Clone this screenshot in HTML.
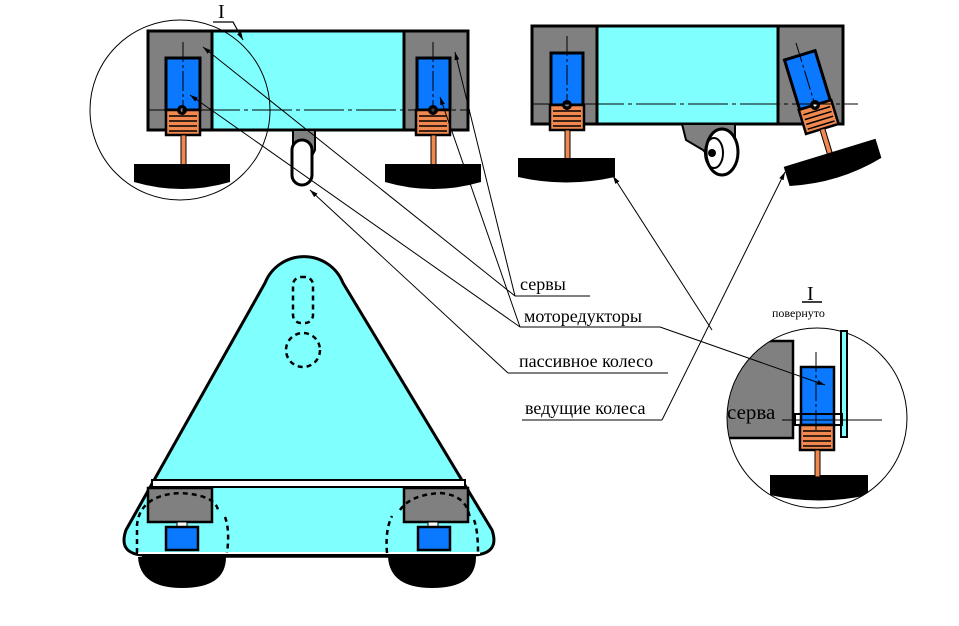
<!DOCTYPE html>
<html><head><meta charset="utf-8"><style>
html,body{margin:0;padding:0;background:#fff}
svg{display:block}
text{font-family:"Liberation Serif","DejaVu Serif",serif;fill:#000}
</style></head><body>
<svg width="959" height="626" viewBox="0 0 959 626" xmlns="http://www.w3.org/2000/svg">
<defs>
<marker id="ar" viewBox="0 0 10 10" refX="10" refY="5" markerWidth="8" markerHeight="8" orient="auto-start-reverse" markerUnits="userSpaceOnUse"><path d="M0,2 L10,5 L0,8z" fill="#000"/></marker>
<g id="coil">
<rect x="-17" y="0" width="34" height="25" fill="#f08850" stroke="#000" stroke-width="2.5"/>
<path d="M-14,6 H14 M-14,11 H14 M-14,16 H14 M-14,21 H14" stroke="#000" stroke-width="1.5"/>
</g>
</defs>

<!-- ===== top-left view ===== -->
<rect x="148" y="31" width="320" height="99" fill="#808080" stroke="#000" stroke-width="3"/>
<rect x="212" y="31" width="192" height="99" fill="#80ffff" stroke="#000" stroke-width="3"/>
<rect x="166" y="58" width="34" height="52" fill="#0a78ff" stroke="#000" stroke-width="3"/>
<g transform="translate(183,110)"><use href="#coil"/></g>
<rect x="181" y="135" width="5" height="30" fill="#f08850" stroke="#000" stroke-width="1"/>
<path d="M134,164 H230 V182 Q182,196 134,182Z" fill="#000"/>
<circle cx="182" cy="110" r="5" fill="#000"/><circle cx="182" cy="110" r="1.5" fill="#fff"/>
<rect x="417" y="58" width="33" height="52" fill="#0a78ff" stroke="#000" stroke-width="3"/>
<g transform="translate(433,110)"><use href="#coil"/></g>
<rect x="431" y="135" width="5" height="30" fill="#f08850" stroke="#000" stroke-width="1"/>
<path d="M385,164 H481 V182 Q433,196 385,182Z" fill="#000"/>
<circle cx="433" cy="110" r="5" fill="#000"/><circle cx="433" cy="110" r="1.5" fill="#fff"/>
<path d="M148,110 H470" stroke="#000" stroke-width="1" stroke-dasharray="40,4,4,4"/>
<path d="M183,42 V115 M433,42 V115" stroke="#000" stroke-width="1" stroke-dasharray="20,3,3,3"/>
<path d="M293,130 H315 V150 L310,160 H296 L293,150Z" fill="#808080" stroke="#000" stroke-width="2"/>
<rect x="292" y="140" width="20" height="45" rx="10" fill="#fff" stroke="#000" stroke-width="3"/>
<circle cx="180" cy="110" r="90" fill="none" stroke="#000" stroke-width="1"/>
<text x="218" y="18" font-size="20">I</text>
<path d="M213,22 H233 L243,40" stroke="#000" fill="none" stroke-width="1.2" marker-end="url(#ar)"/>

<!-- ===== top-right view ===== -->
<rect x="532" y="26" width="311" height="98" fill="#808080" stroke="#000" stroke-width="3"/>
<rect x="597" y="26" width="181" height="98" fill="#80ffff" stroke="#000" stroke-width="3"/>
<rect x="551" y="53" width="32" height="52" fill="#0a78ff" stroke="#000" stroke-width="3"/>
<g transform="translate(567,105)"><use href="#coil"/></g>
<rect x="565" y="130" width="5" height="30" fill="#f08850" stroke="#000" stroke-width="1"/>
<path d="M518,158 H615 V177 Q566,188 518,177Z" fill="#000"/>
<circle cx="567" cy="105" r="5" fill="#000"/><circle cx="567" cy="105" r="1.5" fill="#fff"/>
<path d="M682,124 H735 V145 L728,150 L712,160 L703,150 L686,140Z" fill="#808080" stroke="#000" stroke-width="2"/>
<ellipse cx="722" cy="152" rx="16" ry="23" fill="#fff" stroke="#000" stroke-width="3"/>
<ellipse cx="714" cy="153" rx="9" ry="15" fill="none" stroke="#000" stroke-width="2"/>
<circle cx="712" cy="153" r="4" fill="#000"/>
<g transform="translate(815,105) rotate(-17)">
<rect x="-16" y="-52" width="32" height="52" fill="#0a78ff" stroke="#000" stroke-width="3"/>
<use href="#coil"/>
<rect x="-2.5" y="25" width="5" height="26" fill="#f08850" stroke="#000" stroke-width="1"/>
<path d="M-48,50 H48 V70 Q0,82 -48,70Z" fill="#000"/>
<path d="M0,-65 V5" stroke="#000" stroke-width="1" stroke-dasharray="20,3,3,3"/>
<circle cx="0" cy="0" r="5" fill="#000"/><circle cx="0" cy="0" r="1.5" fill="#fff"/>
</g>
<path d="M532,104 H858" stroke="#000" stroke-width="1" stroke-dasharray="40,4,4,4"/>
<path d="M567,36 V110" stroke="#000" stroke-width="1" stroke-dasharray="20,3,3,3"/>

<!-- ===== bottom view ===== -->
<path d="M265,283 A42,42 0 0 1 343,283 L492,530 Q500,553 475,555 H142 Q118,553 126,530 Z" fill="#80ffff" stroke="#000" stroke-width="3"/>
<rect x="152" y="480" width="313" height="7" fill="#fff" stroke="#000" stroke-width="2"/>
<path d="M138,553 H480" stroke="#fff" stroke-width="2"/>
<path d="M142,557 H476" stroke="#000" stroke-width="1.5"/>
<path d="M138,557 Q140,588 182,588 Q226,588 226,557Z" fill="#000"/>
<path d="M388,557 Q390,588 432,588 Q476,588 476,557Z" fill="#000"/>
<rect x="148" y="488" width="64" height="34" fill="#808080" stroke="#000" stroke-width="2.5"/>
<rect x="404" y="488" width="64" height="34" fill="#808080" stroke="#000" stroke-width="2.5"/>
<rect x="177" y="522" width="10" height="5" fill="#fff" stroke="#000"/>
<rect x="428" y="522" width="10" height="5" fill="#fff" stroke="#000"/>
<rect x="166" y="527" width="32" height="23" fill="#0a78ff" stroke="#000" stroke-width="2.5"/>
<rect x="418" y="527" width="32" height="23" fill="#0a78ff" stroke="#000" stroke-width="2.5"/>
<g fill="none" stroke="#000" stroke-width="2.5" stroke-dasharray="5,4">
<path d="M137,553 V525 Q140,495 180,493 Q215,495 218,510"/>
<path d="M225,517 Q230,530 227,553"/>
<path d="M387,553 Q385,530 392,516"/>
<path d="M400,510 Q410,495 440,493 Q468,495 470,520 M474,520 Q478,530 478,553"/>
<rect x="293" y="277" width="20" height="46" rx="8"/>
<circle cx="303" cy="350" r="17"/>
</g>

<!-- ===== detail I rotated ===== -->
<text x="807" y="300" font-size="20">I</text>
<path d="M802,302 H822" stroke="#000" stroke-width="1.5"/>
<text x="772" y="317" font-size="12">повернуто</text>
<clipPath id="cc"><circle cx="817" cy="418" r="90"/></clipPath>
<g clip-path="url(#cc)">
<path d="M725,341 H793 V438 H725Z" fill="#808080" stroke="#000" stroke-width="2.5"/>
<path d="M770,475 H868 V495 Q819,506 770,495Z" fill="#000"/>
</g>
<circle cx="817" cy="418" r="90" fill="none" stroke="#000" stroke-width="1"/>
<rect x="841" y="331" width="6" height="106" fill="#80ffff" stroke="#000" stroke-width="2"/>
<rect x="801" y="367" width="33" height="58" fill="#0a78ff" stroke="#000" stroke-width="2.5"/>
<rect x="795" y="414" width="47" height="11" fill="none" stroke="#000" stroke-width="2"/>
<g transform="translate(817,425)"><use href="#coil"/></g>
<rect x="815" y="450" width="5" height="27" fill="#f08850" stroke="#000" stroke-width="1"/>
<path d="M816,352 V430" stroke="#000" stroke-width="1" stroke-dasharray="20,3,3,3"/>
<path d="M782,420 H882" stroke="#000" stroke-width="1"/>
<text x="727" y="419" font-size="21">серва</text>

<!-- ===== labels & leaders ===== -->
<g font-size="18">
<text x="520" y="290">сервы</text>
<text x="524" y="322">моторедукторы</text>
<text x="519" y="367">пассивное колесо</text>
<text x="525" y="414">ведущие колеса</text>
</g>
<g stroke="#000" stroke-width="1" fill="none">
<path d="M515,296 H590 M520,327 H660 M508,373 H668 M522,420 H662"/>
<path d="M515,296 L203,47" marker-end="url(#ar)"/>
<path d="M515,296 L455,52" marker-end="url(#ar)"/>
<path d="M520,327 L190,95" marker-end="url(#ar)"/>
<path d="M520,327 L440,97" marker-end="url(#ar)"/>
<path d="M660,327 L825,385" marker-end="url(#ar)"/>
<path d="M508,373 L310,190" marker-end="url(#ar)"/>
<path d="M662,420 L785,172" marker-end="url(#ar)"/>
<path d="M712,330 L613,176" marker-end="url(#ar)"/>
</g>
</svg>
</body></html>
